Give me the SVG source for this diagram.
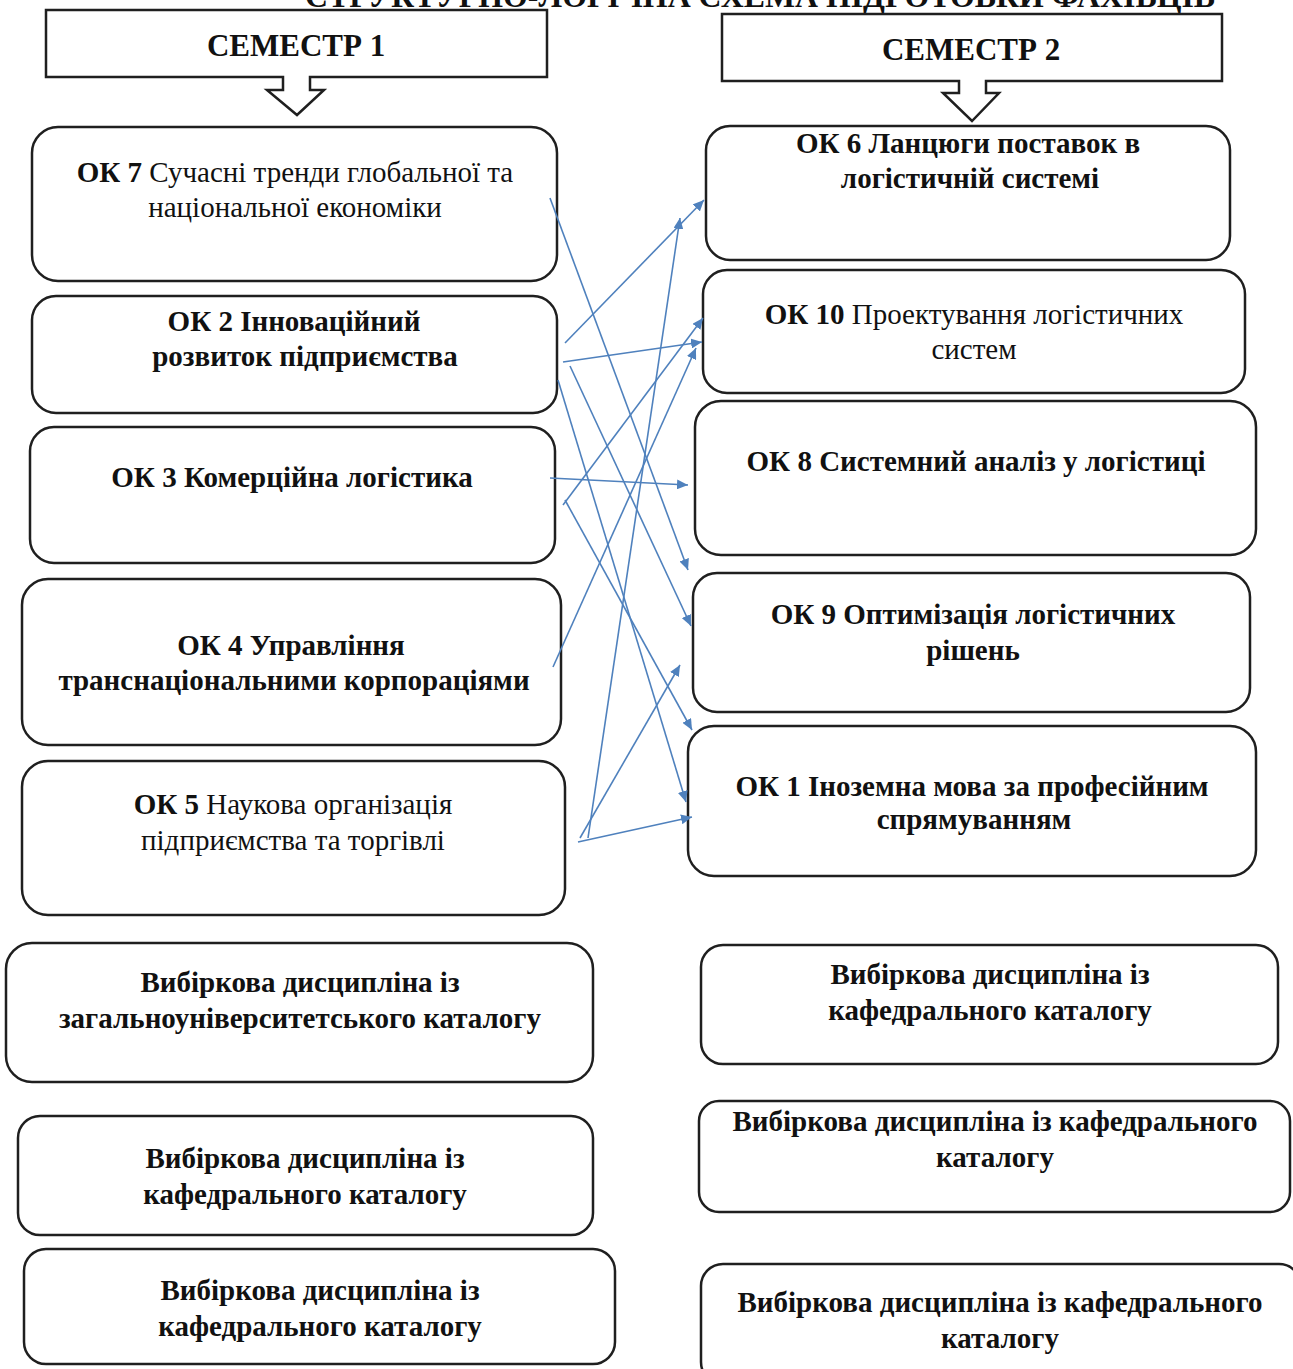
<svg xmlns="http://www.w3.org/2000/svg" width="1293" height="1369" viewBox="0 0 1293 1369">
<defs>
<style>
.box{fill:#fff;stroke:#1f1f1f;stroke-width:2.5}
.t{font-family:"Liberation Serif","Times New Roman",serif;font-size:29px;fill:#111;text-anchor:middle}
.b{font-weight:bold}
.h{font-family:"Liberation Serif","Times New Roman",serif;font-size:31px;font-weight:bold;fill:#111;text-anchor:middle}
.c{stroke:#4f81bd;stroke-width:1.6;fill:none;marker-end:url(#ah)}
</style>
<marker id="ah" markerUnits="userSpaceOnUse" markerWidth="12" markerHeight="10" refX="11" refY="5" orient="auto">
<path d="M0,0 L11,5 L0,10 Z" fill="#4f81bd"/>
</marker>
</defs>
<rect width="1293" height="1369" fill="#fff"/>
<text class="h" x="760" y="7" textLength="910" lengthAdjust="spacingAndGlyphs">СТРУКТУРНО-ЛОГІЧНА СХЕМА ПІДГОТОВКИ ФАХІВЦІВ</text>

<g id="sem1">
<path class="box" d="M46,10 H547 V77 H310 V90 H324 L297,115 L267,90 H283 V77 H46 Z"/>
<text class="h" x="296" y="56">СЕМЕСТР 1</text>
</g>
<g id="sem2">
<path class="box" d="M722,14 H1222 V81 H986 V93 H999 L972,121 L943,93 H959 V81 H722 Z"/>
<text class="h" x="971" y="60">СЕМЕСТР 2</text>
</g>

<g id="ok7">
<rect class="box" x="32" y="127" width="525" height="154" rx="26"/>
<text class="t" x="295" y="182"><tspan class="b">ОК 7</tspan> Сучасні тренди глобальної та</text>
<text class="t" x="295" y="217">національної економіки</text>
</g>
<g id="ok2">
<rect class="box" x="32" y="296" width="525" height="117" rx="24"/>
<text class="t b" x="294" y="331">ОК 2 Інноваційний</text>
<text class="t b" x="305" y="366">розвиток підприємства</text>
</g>
<g id="ok3">
<rect class="box" x="30" y="427" width="525" height="136" rx="24"/>
<text class="t b" x="292" y="487">ОК 3 Комерційна логістика</text>
</g>
<g id="ok4">
<rect class="box" x="22" y="579" width="539" height="166" rx="26"/>
<text class="t b" x="291" y="655">ОК 4 Управління</text>
<text class="t b" x="294" y="690">транснаціональними корпораціями</text>
</g>
<g id="ok5">
<rect class="box" x="22" y="761" width="543" height="154" rx="26"/>
<text class="t" x="293" y="814"><tspan class="b">ОК 5</tspan> Наукова організація</text>
<text class="t" x="293" y="850">підприємства та торгівлі</text>
</g>
<g id="vib1">
<rect class="box" x="6" y="943" width="587" height="139" rx="26"/>
<text class="t b" x="300" y="992">Вибіркова дисципліна із</text>
<text class="t b" x="300" y="1028">загальноуніверситетського каталогу</text>
</g>
<g id="vib2">
<rect class="box" x="18" y="1116" width="575" height="119" rx="22"/>
<text class="t b" x="305" y="1168">Вибіркова дисципліна із</text>
<text class="t b" x="305" y="1204">кафедрального каталогу</text>
</g>
<g id="vib3">
<rect class="box" x="24" y="1249" width="591" height="115" rx="22"/>
<text class="t b" x="320" y="1300">Вибіркова дисципліна із</text>
<text class="t b" x="320" y="1336">кафедрального каталогу</text>
</g>

<g id="ok6">
<rect class="box" x="706" y="126" width="524" height="134" rx="24"/>
<text class="t b" x="968" y="153">ОК 6 Ланцюги поставок в</text>
<text class="t b" x="970" y="188">логістичній системі</text>
</g>
<g id="ok10">
<rect class="box" x="703" y="270" width="542" height="123" rx="24"/>
<text class="t" x="974" y="324"><tspan class="b">ОК 10</tspan> Проектування логістичних</text>
<text class="t" x="974" y="359">систем</text>
</g>
<g id="ok8">
<rect class="box" x="695" y="401" width="561" height="154" rx="26"/>
<text class="t b" x="976" y="471">ОК 8 Системний аналіз у логістиці</text>
</g>
<g id="ok9">
<rect class="box" x="693" y="573" width="557" height="139" rx="24"/>
<text class="t b" x="973" y="624">ОК 9 Оптимізація логістичних</text>
<text class="t b" x="973" y="660">рішень</text>
</g>
<g id="ok1">
<rect class="box" x="688" y="726" width="568" height="150" rx="26"/>
<text class="t b" x="972" y="796">ОК 1 Іноземна мова за професійним</text>
<text class="t b" x="974" y="829">спрямуванням</text>
</g>
<g id="vibr1">
<rect class="box" x="701" y="945" width="577" height="119" rx="22"/>
<text class="t b" x="990" y="984">Вибіркова дисципліна із</text>
<text class="t b" x="990" y="1020">кафедрального каталогу</text>
</g>
<g id="vibr2">
<rect class="box" x="699" y="1101" width="591" height="111" rx="20"/>
<text class="t b" x="995" y="1131">Вибіркова дисципліна із кафедрального</text>
<text class="t b" x="995" y="1167">каталогу</text>
</g>
<g id="vibr3">
<rect class="box" x="701" y="1264" width="600" height="120" rx="22"/>
<text class="t b" x="1000" y="1312">Вибіркова дисципліна із кафедрального</text>
<text class="t b" x="1000" y="1348">каталогу</text>
</g>

<g id="connectors">
<line class="c" x1="550" y1="198" x2="688" y2="570"/>
<line class="c" x1="565" y1="343" x2="704" y2="200"/>
<line class="c" x1="563" y1="362" x2="702" y2="342"/>
<line class="c" x1="570" y1="366" x2="691" y2="626"/>
<line class="c" x1="558" y1="380" x2="686" y2="802"/>
<line class="c" x1="550" y1="478" x2="688" y2="485"/>
<line class="c" x1="563" y1="505" x2="703" y2="318"/>
<line class="c" x1="565" y1="500" x2="692" y2="730"/>
<line class="c" x1="553" y1="667" x2="696" y2="348"/>
<line class="c" x1="588" y1="838" x2="680" y2="218"/>
<line class="c" x1="580" y1="838" x2="680" y2="665"/>
<line class="c" x1="578" y1="842" x2="692" y2="817"/>
</g>
</svg>
